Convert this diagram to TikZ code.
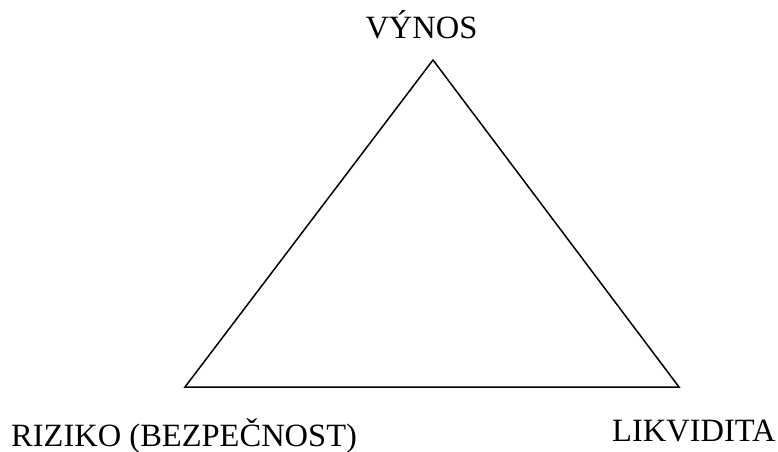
\documentclass[tikz,border=0pt]{standalone}
\usepackage{fontspec}
\setmainfont{Liberation Serif}
\begin{document}
\begin{tikzpicture}[x=1pt,y=-1pt,
  lbl/.style={inner sep=0pt,font=\fontsize{32.5}{38}\selectfont},
  edge/.style={line width=1.5pt,line join=miter}]
\useasboundingbox (0,0) rectangle (778,451);
\coordinate (top) at (433,60);
\coordinate (bl) at (185,387);
\coordinate (br) at (679,387);
\draw[edge] (top) -- (bl) -- (br) -- cycle;
\node[lbl,anchor=base] (vynos) at (421.5,38) {VÝNOS};
\node[lbl,anchor=base west] (riziko) at (11,446) {RIZIKO (BEZPEČNOST)};
\node[lbl,anchor=base west] (likv) at (612,441) {LIKVIDITA};
\end{tikzpicture}
\end{document}
